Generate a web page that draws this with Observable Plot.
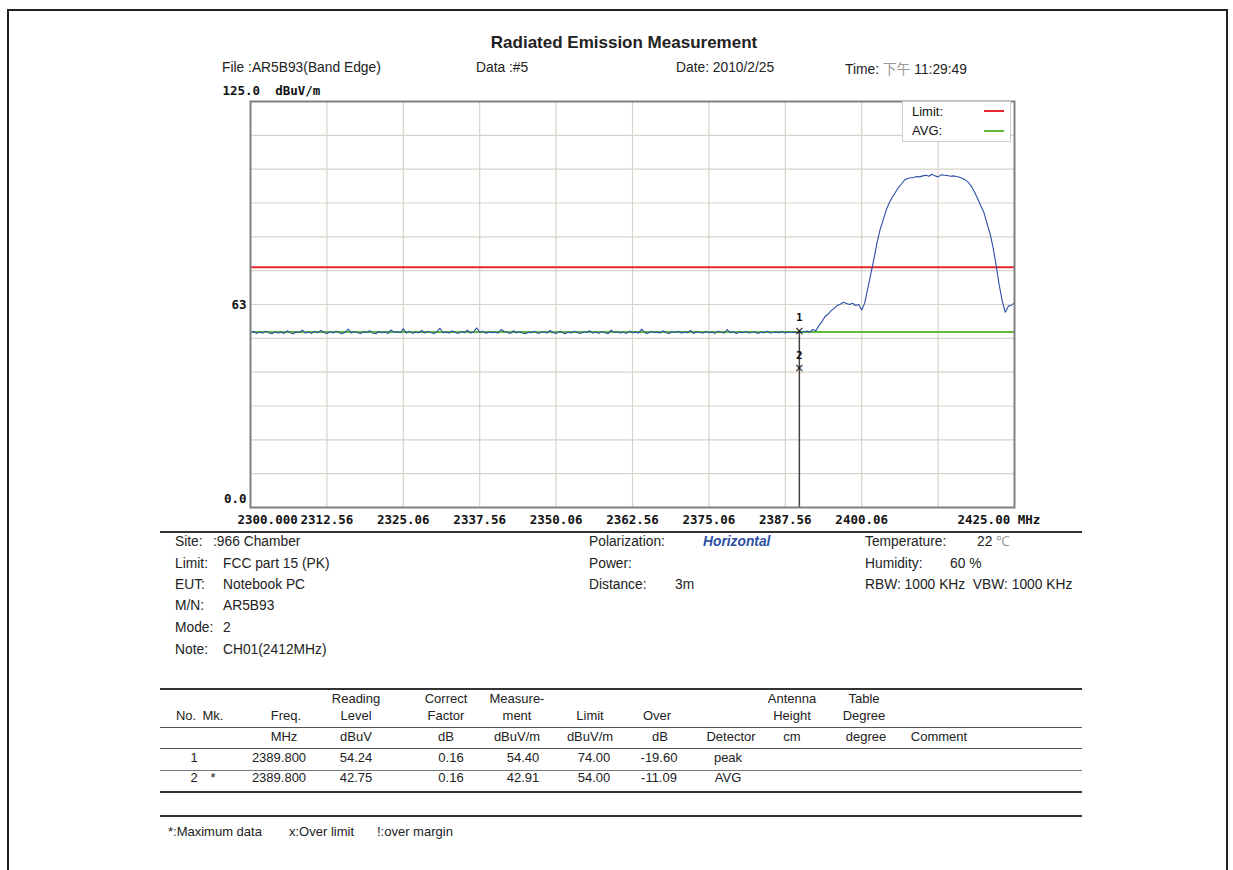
<!DOCTYPE html>
<html>
<head>
<meta charset="utf-8">
<script src="https://cdn.jsdelivr.net/npm/d3@7"></script>
<script src="https://cdn.jsdelivr.net/npm/@observablehq/plot@0.6"></script>
<style>
  html, body { margin: 0; padding: 0; background: #fff; }
  #page { position: relative; width: 1233px; height: 870px; overflow: hidden; font-family: "Liberation Sans", Arial, sans-serif; color: #222; }
  .t { position: absolute; white-space: pre; font-size: 13.8px; line-height: 16px; }
  .c { transform: translateX(-50%); text-align: center; }
  .hl { position: absolute; background: #333; }
  #chart { position: absolute; left: 160px; top: 80px; }
</style>
</head>
<body>
<div id="page">
  <div style="position:absolute;left:7px;top:9px;width:1217px;height:900px;border:2px solid #222;"></div>
</div>
<script>
// ---------------- DATA ----------------
const sweepStart = 2300;      // MHz
const sweepStep = 0.5;        // MHz between sweep points
const traceLevel = [
  53.9,54.2,53.6,54.0,53.7,54.3,53.8,53.5,54.1,53.7,
  54.0,53.6,54.4,53.8,53.5,54.1,53.9,54.6,53.7,54.0,
  53.6,54.2,53.8,54.5,53.9,53.6,54.1,53.7,54.3,53.8,
  53.5,54.0,54.9,53.7,54.2,53.8,53.6,54.1,53.9,54.4,
  53.7,53.5,54.2,53.8,54.0,53.6,54.7,53.9,54.1,53.8,
  55.0,53.7,54.3,53.6,54.0,53.8,54.5,53.7,54.2,53.9,
  53.6,54.1,55.2,53.8,54.0,53.7,54.4,53.9,53.6,54.2,
  53.8,54.6,53.7,54.0,55.3,53.9,54.3,53.6,54.1,53.8,
  54.0,53.7,54.8,54.2,53.9,53.6,54.4,53.8,54.1,53.7,
  53.5,54.0,53.8,54.3,53.6,53.9,54.1,53.7,54.5,53.8,
  53.6,54.2,53.9,53.5,54.0,53.7,54.3,53.8,53.6,54.1,
  53.9,54.4,53.7,54.0,53.6,54.2,53.8,53.5,54.6,53.9,
  54.1,53.7,54.0,53.6,54.3,53.8,54.0,53.7,54.9,53.8,
  53.6,54.2,53.9,54.0,53.7,54.4,53.8,53.6,54.1,53.9,
  54.3,53.7,54.0,53.8,54.5,53.6,54.1,53.9,53.7,54.2,
  53.8,54.0,53.6,54.3,53.9,53.7,54.8,53.8,54.1,53.6,
  54.0,53.8,54.2,53.7,53.9,54.1,53.6,54.0,53.8,54.3,
  53.7,53.9,54.0,53.8,54.2,53.7,54.1,53.9,54.0,53.8,
  // 2390.0 - 2399.5
  53.9,54.1,54.3,54.0,54.8,54.4,56.0,57.2,58.8,59.5,
  60.6,61.3,62.2,62.6,63.2,62.8,62.5,62.9,62.2,62.5,
  // 2400.0 - 2425.0
  60.8,63.0,67.5,72.0,76.5,81.5,85.5,88.5,91.5,93.8,
  95.5,97.0,98.5,99.6,100.8,101.3,101.5,101.6,101.9,101.8,
  102.1,102.3,102.0,102.6,102.1,101.8,102.4,102.3,102.2,102.0,
  102.1,101.9,101.7,101.3,100.8,100.0,98.7,97.0,95.0,92.8,
  90.8,87.5,84.3,80.0,74.5,68.5,63.5,60.1,62.0,62.3,
  63.0
];
const limitLevel = 74;
const avgLevel = 54;
const xTickFreqs  = [2300, 2312.5, 2325, 2337.5, 2350, 2362.5, 2375, 2387.5, 2400, 2412.5, 2425];
const xTickLabels = ["2300.000","2312.56","2325.06","2337.56","2350.06","2362.56","2375.06","2387.56","2400.06","","2425.00 MHz"];
const yGridCount = 12;
const yLabelValues = [125, 62.5, 0];
const yLabelTexts  = ["125.0  dBuV/m", "63", "0.0"];
const markerNo    = ["1", "2"];
const markerFreq  = [2389.8, 2389.8];
const markerLevel = [54.40, 42.91];

const tableHead1 = ["", "", "", "Reading", "Correct", "Measure-", "", "", "", "Antenna", "Table", ""];
const tableHead2 = ["No.", "Mk.", "Freq.", "Level", "Factor", "ment", "Limit", "Over", "", "Height", "Degree", ""];
const tableUnits = ["", "", "MHz", "dBuV", "dB", "dBuV/m", "dBuV/m", "dB", "Detector", "cm", "degree", "Comment"];
const tableRow1  = ["1", "", "2389.800", "54.24", "0.16", "54.40", "74.00", "-19.60", "peak", "", "", ""];
const tableRow2  = ["2", "*", "2389.800", "42.75", "0.16", "42.91", "54.00", "-11.09", "AVG", "", "", ""];

// ---------------- LAYOUT HELPERS ----------------
const page = document.getElementById("page");
function txt(x, y, s, opts = {}) {
  const d = document.createElement("div");
  d.className = "t" + (opts.center ? " c" : "");
  d.style.left = x + "px";
  d.style.top = (y - 8) + "px";
  if (opts.style) d.style.cssText += opts.style;
  if (opts.html) d.innerHTML = s; else d.textContent = s;
  page.appendChild(d);
  return d;
}
function hline(y, h, x0 = 160, x1 = 1082, color = "#333") {
  const d = document.createElement("div");
  d.className = "hl";
  d.style.left = x0 + "px"; d.style.top = y + "px";
  d.style.width = (x1 - x0) + "px"; d.style.height = h + "px";
  d.style.background = color;
  page.appendChild(d);
}

// ---------------- HEADER ----------------
txt(624, 43, "Radiated Emission Measurement", {center: true, style: "font-weight:bold;font-size:17px;line-height:20px;top:33px;"});
txt(222, 68, "File :AR5B93(Band Edge)");
txt(476, 68, "Data :#5");
txt(676, 68, "Date: 2010/2/25");
txt(845, 68, 'Time: <span style="color:#999;font-family:\'Noto Sans CJK SC\'">下午</span> 11:29:49', {html: true});

// ---------------- CHART ----------------
const trace = traceLevel.map((v, i) => ({freq: sweepStart + i * sweepStep, level: v}));
const ticks = xTickFreqs.map((f, i) => ({f, label: xTickLabels[i]}));
const yGrid = d3.range(1, yGridCount).map(k => 125 * k / yGridCount);
const yLabs = yLabelValues.map((v, i) => ({v, t: yLabelTexts[i]}));
const markers = markerNo.map((n, i) => ({n, f: markerFreq[i], l: markerLevel[i]}));
const monoFont = "DejaVu Sans Mono, monospace";

const chart = Plot.plot({
  width: 900, height: 460,
  marginLeft: 90, marginRight: 46, marginTop: 21, marginBottom: 33,
  x: {domain: [2300, 2425], axis: null},
  y: {domain: [0, 125], axis: null},
  style: {background: "transparent", overflow: "visible", fontFamily: monoFont, color: "#111"},
  marks: [
    Plot.ruleX(xTickFreqs.slice(1, -1), {stroke: "#d8d3ca", strokeWidth: 1.2}),
    Plot.ruleY(yGrid, {stroke: "#d8d3ca", strokeWidth: 1.2}),
    Plot.ruleY([avgLevel], {stroke: "#63b93a", strokeWidth: 2}),
    Plot.ruleY([limitLevel], {stroke: "#e5262b", strokeWidth: 2}),
    Plot.line(trace, {x: "freq", y: "level", stroke: "#2b4ea6", strokeWidth: 1.1}),
    Plot.ruleX([markers[0]], {x: "f", y1: 0, y2: "l", stroke: "#444", strokeWidth: 1.5}),
    Plot.text(markers, {x: "f", y: "l", text: () => "×", fontSize: 12, fontFamily: "DejaVu Sans", fill: "#111"}),
    Plot.text(markers, {x: "f", y: "l", text: "n", dy: -13, fontSize: 11, fontWeight: "bold", fill: "#111"}),
    Plot.frame({stroke: "#808080", strokeWidth: 2}),
    // x tick labels
    Plot.text(ticks.filter((d, i) => i > 0 && i < ticks.length - 1), {x: "f", y: 0, text: "label", dy: 12, fontSize: 12.5, fontWeight: "bold"}),
    Plot.text([ticks[0]], {x: "f", y: 0, text: "label", dy: 12, dx: -13, textAnchor: "start", fontSize: 12.5, fontWeight: "bold"}),
    Plot.text([ticks[ticks.length - 1]], {x: "f", y: 0, text: "label", dy: 12, dx: -57, textAnchor: "start", fontSize: 12.5, fontWeight: "bold"}),
    // y labels
    Plot.text([yLabs[0]], {x: 2300, y: "v", text: "t", dx: -28, dy: -11, textAnchor: "start", fontSize: 12.5, fontWeight: "bold"}),
    Plot.text([yLabs[1]], {x: 2300, y: "v", text: "t", dx: -4, textAnchor: "end", fontSize: 12.5, fontWeight: "bold"}),
    Plot.text([yLabs[2]], {x: 2300, y: "v", text: "t", dx: -4, dy: -9, textAnchor: "end", fontSize: 12.5, fontWeight: "bold"})
  ]
});
chart.id = "chart";
page.appendChild(chart);

// legend box (top right of plot)
const lg = document.createElement("div");
lg.style.cssText = "position:absolute;left:902px;top:101px;width:107px;height:39px;border:1px solid #d0cdc8;background:#fff;";
page.appendChild(lg);
txt(912, 112, "Limit:", {style: "font-size:13px;color:#111;"});
txt(912, 131, "AVG:", {style: "font-size:13px;color:#111;"});
hline(110, 2, 984, 1004, "#e5262b");
hline(130, 2, 984, 1004, "#63b93a");

// ---------------- INFO ----------------
hline(531, 2);
const rowY = [542, 564, 585, 606, 628, 650];
txt(175, rowY[0], "Site:");   txt(213, rowY[0], ":966 Chamber");
txt(175, rowY[1], "Limit:");  txt(223, rowY[1], "FCC part 15 (PK)");
txt(175, rowY[2], "EUT:");    txt(223, rowY[2], "Notebook PC");
txt(175, rowY[3], "M/N:");    txt(223, rowY[3], "AR5B93");
txt(175, rowY[4], "Mode:");   txt(223, rowY[4], "2");
txt(175, rowY[5], "Note:");   txt(223, rowY[5], "CH01(2412MHz)");
txt(589, rowY[0], "Polarization:"); txt(703, rowY[0], "Horizontal", {style: "font-weight:bold;font-style:italic;color:#2c4fa3;"});
txt(589, rowY[1], "Power:");
txt(589, rowY[2], "Distance:"); txt(675, rowY[2], "3m");
txt(865, rowY[0], "Temperature:"); txt(977, rowY[0], '22 <span style="color:#999;">℃</span>', {html: true});
txt(865, rowY[1], "Humidity:"); txt(950, rowY[1], "60 %");
txt(865, rowY[2], "RBW: 1000 KHz  VBW: 1000 KHz");

// ---------------- TABLE ----------------
hline(688, 2);
hline(727, 1, 160, 1082, "#555");
hline(748, 1, 160, 1082, "#555");
hline(770, 1, 160, 1082, "#777");
hline(791, 2);
hline(815, 2);
const colX   = [186, 213, 286, 356, 446, 517, 590, 657, 731, 792, 864, 938];
const unitX  = [186, 213, 284, 356, 446, 517, 590, 660, 731, 792, 866, 939];
const valX   = [194, 213, 279, 356, 451, 523, 594, 659, 728, 792, 866, 939];
const tcell = "font-size:13px;";
tableHead1.forEach((s, i) => s && txt(colX[i], 699, s, {center: true, style: tcell}));
tableHead2.forEach((s, i) => s && txt(colX[i], 716, s, {center: true, style: tcell}));
tableUnits.forEach((s, i) => s && txt(unitX[i], 737, s, {center: true, style: tcell}));
tableRow1.forEach((s, i) => s && txt(valX[i], 758, s, {center: true, style: tcell}));
tableRow2.forEach((s, i) => s && txt(valX[i], 778, s, {center: true, style: tcell}));

txt(168, 832, "*:Maximum data", {style: tcell});
txt(289, 832, "x:Over limit", {style: tcell});
txt(377, 832, "!:over margin", {style: tcell});
</script>
</body>
</html>
